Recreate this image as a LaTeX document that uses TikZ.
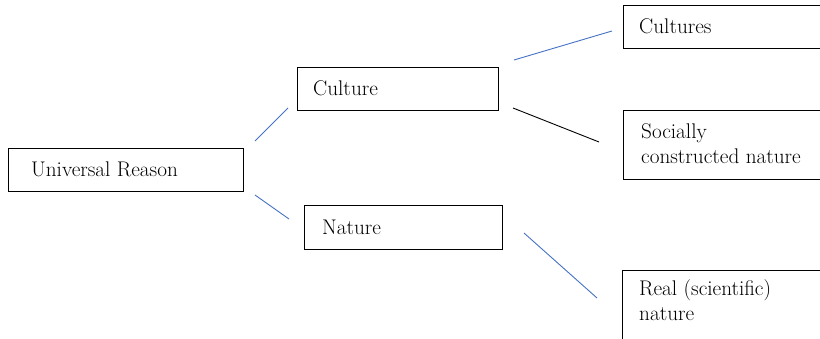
\documentclass[tikz,border=0pt]{standalone}
\definecolor{lineblue}{RGB}{68,114,196}
\begin{document}
\begin{tikzpicture}[x=1pt,y=-1pt,
  box/.style={draw, line width=1.4pt, rectangle, inner sep=0pt, anchor=north west},
  lbl/.style={anchor=base west, inner sep=0pt, font=\fontsize{21.2}{25}\selectfont, align=left},
  bluelink/.style={line width=0.9pt, draw=lineblue},
  blacklink/.style={line width=0.9pt, draw=black}]
\useasboundingbox (0,0) rectangle (820,339);
\clip (0,0) rectangle (820,339);
% boxes
\node[box, minimum width=235pt, minimum height=43pt] (ur) at (8,148) {};
\node[box, minimum width=201pt, minimum height=43pt] (cul) at (297,67) {};
\node[box, minimum width=210pt, minimum height=43pt] (cults) at (623,5) {};
\node[box, minimum width=210pt, minimum height=69pt] (soc) at (623,110) {};
\node[box, minimum width=198pt, minimum height=44pt] (nat) at (304,205) {};
\node[box, minimum width=210pt, minimum height=80pt] (real) at (622,270) {};
% labels (multi-line labels: base is the last line)
\node[lbl] (urt) at (31,177) {Universal Reason};
\node[lbl] (cult) at (313,96) {Culture};
\node[lbl] (cultst) at (639,34) {Cultures};
\node[lbl] (soct) at (641,164) {Socially\\constructed nature};
\node[lbl] (natt) at (322,235) {Nature};
\node[lbl] (realt) at (639,321) {Real (scientific)\\nature};
% connector ends
\coordinate (a1) at (255,141); \coordinate (a2) at (288,108);
\coordinate (b1) at (255,195); \coordinate (b2) at (289,219);
\coordinate (c1) at (514,60);  \coordinate (c2) at (612,31);
\coordinate (d1) at (513,108); \coordinate (d2) at (599,142);
\coordinate (e1) at (524,233); \coordinate (e2) at (597,298);
\draw[bluelink] (a1) -- (a2);
\draw[bluelink] (b1) -- (b2);
\draw[bluelink] (c1) -- (c2);
\draw[blacklink] (d1) -- (d2);
\draw[bluelink] (e1) -- (e2);
\end{tikzpicture}
\end{document}
